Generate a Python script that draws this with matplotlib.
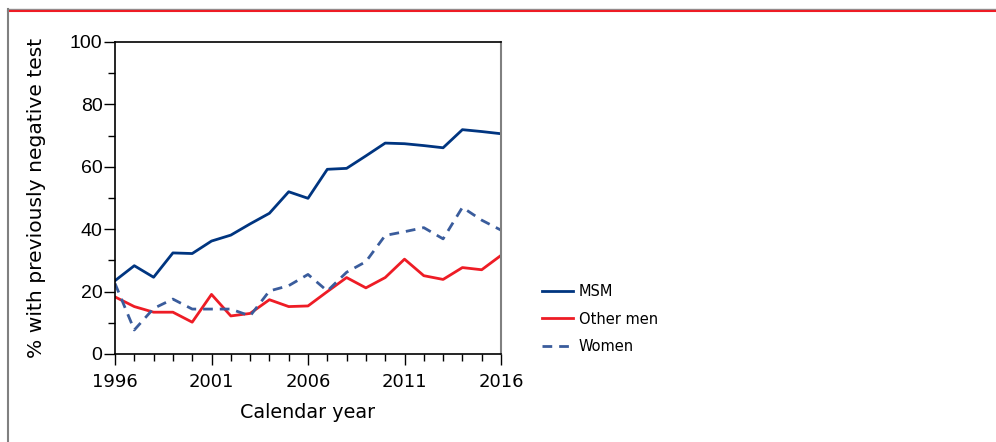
import matplotlib
matplotlib.use("Agg")
import matplotlib.pyplot as plt
from matplotlib.lines import Line2D
from matplotlib.ticker import MultipleLocator

years = list(range(1996, 2017))
msm = [23.5, 28.3, 24.6, 32.4, 32.2, 36.2, 38.1, 41.7, 45.1, 52.0, 49.9,
       59.2, 59.5, 63.5, 67.6, 67.4, 66.8, 66.1, 71.9, 71.3, 70.6]
other_men = [18.3, 15.2, 13.4, 13.4, 10.2, 19.1, 12.2, 13.0, 17.4, 15.2, 15.4,
             20.0, 24.5, 21.2, 24.5, 30.4, 25.1, 23.9, 27.7, 27.0, 31.6]
women = [22.6, 7.7, 14.6, 17.6, 14.4, 14.4, 14.4, 12.2, 20.2, 21.9, 25.5,
         20.2, 26.2, 29.6, 38.0, 39.2, 40.5, 36.9, 47.0, 42.9, 39.7]
labels = ["MSM", "Other men", "Women"]
xticks = [1996, 2001, 2006, 2011, 2016]

plt.rcParams['font.family'] = ['DejaVu Sans']

W, H = 996, 442
fig = plt.figure(figsize=(W / 100, H / 100), dpi=100)
ax = fig.add_axes([115 / W, 1 - 354 / H, (501 - 115) / W, (354 - 42) / H])

lw = 2.0
ax.plot(years, msm, color="#003580", lw=lw, label=labels[0])
ax.plot(years, other_men, color="#ee1c25", lw=lw, label=labels[1])
ax.plot(years, women, color="#3a5c9c", lw=lw, ls=(0, (3.5, 2.5)), label=labels[2])

ax.set_xlim(1996, 2016)
ax.set_ylim(0, 100)
ax.set_xticks(xticks)
ax.xaxis.set_minor_locator(MultipleLocator(1))
ax.yaxis.set_major_locator(MultipleLocator(20))
ax.yaxis.set_minor_locator(MultipleLocator(10))
ax.tick_params(axis="both", which="major", length=8, width=1, labelsize=13)
ax.tick_params(axis="both", which="minor", length=5, width=1)
ax.tick_params(axis="x", pad=6)
ax.tick_params(axis="y", pad=1)
for t in ax.get_yticklabels():
    t.set_fontfamily("Liberation Sans")
    t.set_fontsize(14)

for s in ["left", "bottom", "top"]:
    ax.spines[s].set_color("black")
    ax.spines[s].set_linewidth(1.2)
ax.spines["right"].set_color("#808080")
ax.spines["right"].set_linewidth(1.5)

ax.set_xlabel("Calendar year", fontsize=13.8, labelpad=8)
ax.set_ylabel("% with previously negative test", fontsize=14.6, labelpad=17)

leg = fig.legend(loc="upper left", bbox_to_anchor=(529 / W, 1 - 271 / H),
                 frameon=False, fontsize=10.5, handlelength=2.1,
                 handletextpad=0.4, labelspacing=0.85)

# page frame lines
fig.add_artist(Line2D([8 / W, 1], [1 - 9 / H, 1 - 9 / H], transform=fig.transFigure,
                      color="#909090", lw=1))
fig.add_artist(Line2D([8 / W, 1], [1 - 10.5 / H, 1 - 10.5 / H], transform=fig.transFigure,
                      color="#ee1c25", lw=1.5))
fig.add_artist(Line2D([8 / W, 8 / W], [0, 1 - 9 / H], transform=fig.transFigure,
                      color="#808080", lw=1.5))

fig.savefig("out.png", dpi=100)
